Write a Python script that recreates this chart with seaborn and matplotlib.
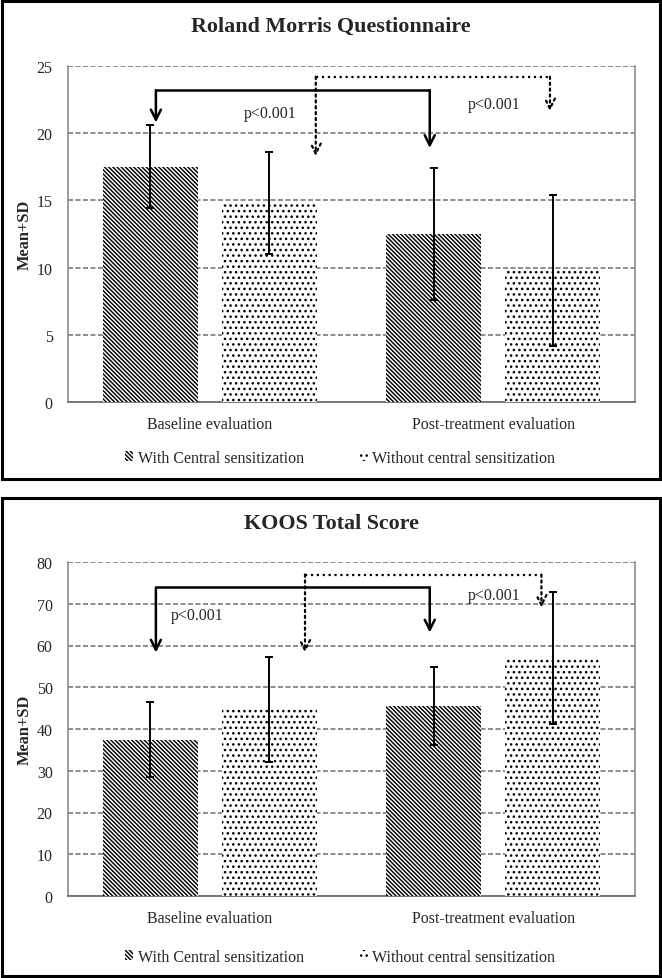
import matplotlib

matplotlib.use("Agg")

import matplotlib.pyplot as plt
import pandas as pd
import seaborn as sns
from matplotlib.patches import Patch, Rectangle

# ---- data -------------------------------------------------------------
categories = ["Baseline evaluation", "Post-treatment evaluation"]
groups = ["With Central sensitization", "Without central sensitization"]

rm_mean_with = [17.5, 12.5]
rm_sd_with = [3.1, 4.9]
rm_mean_without = [14.8, 9.8]
rm_sd_without = [3.8, 5.6]

koos_mean_with = [37.4, 45.5]
koos_sd_with = [9.0, 9.4]
koos_mean_without = [44.7, 57.0]
koos_sd_without = [12.6, 15.7]

# annotation brackets: (x_left, x_right, y_top, tip_left, tip_right)
rm_solid = (-0.19, 0.776, 23.2, 20.8, 18.9)
rm_dotted = (0.374, 1.20, 24.2, 18.3, 21.65)
rm_ptext = [(0.214, 21.5), (1.005, 22.2)]

koos_solid = (-0.19, 0.776, 73.9, 58.3, 63.1)
koos_dotted = (0.336, 1.17, 77.0, 58.3, 69.1)
koos_ptext = [(-0.046, 67.4), (1.005, 72.0)]

hatches = ["\\" * 8, "..."]

sns.set_style("white")
plt.rcParams["font.family"] = ["Liberation Serif", "DejaVu Serif"]
plt.rcParams["hatch.linewidth"] = 1.05


def make_df(mean_with, mean_without):
    rows = []
    for g, vals in zip(groups, [mean_with, mean_without]):
        for c, v in zip(categories, vals):
            rows.append({"cat": c, "group": g, "mean": v})
    return pd.DataFrame(rows)


def bracket(ax, spec, style):
    xl, xr, ytop, tl, tr = spec
    ls = "-" if style == "solid" else ":"
    lw = 1.8 if style == "solid" else 1.6
    ax.plot([xl, xr], [ytop, ytop], color="black", lw=lw, ls=ls, zorder=5,
            solid_capstyle="butt")
    for x, tip in [(xl, tl), (xr, tr)]:
        ax.annotate("", xy=(x, tip), xytext=(x, ytop),
                    arrowprops=dict(arrowstyle="->", lw=lw, ls=ls,
                                    color="black", mutation_scale=18,
                                    shrinkA=0, shrinkB=0),
                    zorder=5)


def draw_panel(ax, df, sds, ymax, ystep, solid, dotted, ptexts, leg_y):
    sns.barplot(data=df, x="cat", y="mean", hue="group", hue_order=groups,
                order=categories, errorbar=None, width=0.84, gap=0.2,
                palette=["white", "white"], edgecolor="black", linewidth=0,
                ax=ax, zorder=3)
    for cont, h, sd in zip(ax.containers, hatches, sds):
        xs, ys = [], []
        for bar in cont:
            bar.set_hatch(h)
            xs.append(bar.get_x() + bar.get_width() / 2)
            ys.append(bar.get_height())
        ax.errorbar(xs, ys, yerr=sd, fmt="none", ecolor="black",
                    elinewidth=1.4, capsize=3.0, capthick=1.4, zorder=4)
    if ax.get_legend() is not None:
        ax.get_legend().remove()

    ax.set_ylim(0, ymax)
    ax.set_xlim(-0.5, 1.5)
    ax.set_yticks(range(0, ymax + 1, ystep))
    ax.yaxis.grid(True, color="#7a7a7a", ls=(0, (3.0, 1.5)), lw=1.2)
    ax.set_axisbelow(True)
    for s in ["left", "right"]:
        ax.spines[s].set_color("#8c8c8c")
        ax.spines[s].set_linewidth(1.2)
    ax.spines["top"].set_visible(False)
    ax.spines["bottom"].set_color("#707070")
    ax.spines["bottom"].set_linewidth(1.3)
    ax.tick_params(axis="y", length=0, labelsize=11.5, pad=11)
    ax.tick_params(axis="x", length=0, labelsize=11.5, pad=10)
    ax.set_xlabel("")
    ax.set_ylabel("Mean+SD", fontsize=11.8, fontweight="bold")
    ax.yaxis.set_label_coords(-0.062, 0.5)

    bracket(ax, solid, "solid")
    bracket(ax, dotted, "dotted")
    for x, y in ptexts:
        ax.text(x, y, "p<0.001", ha="center", va="center", fontsize=11.5,
                zorder=6)

    handles = [Patch(facecolor="white", edgecolor="black", linewidth=0,
                     hatch=h, label=g) for h, g in zip(hatches, groups)]
    ax.legend(handles=handles, loc="upper center",
              bbox_to_anchor=(0.48, leg_y), ncol=2, frameon=False,
              fontsize=11.5, handlelength=0.5, handleheight=0.6,
              handletextpad=0.3, columnspacing=3.5)


fig = plt.figure(figsize=(6.62, 9.79), dpi=100)

# panel borders
for y0 in [1 - 480 / 979, 1 - 977 / 979]:
    fig.patches.append(Rectangle((2 / 662, y0), 658 / 662, 478 / 979,
                                 transform=fig.transFigure, fill=False,
                                 edgecolor="black", lw=2.2))

ax1 = fig.add_axes([68 / 662, 1 - 403 / 979, 567 / 662, 336 / 979])
ax2 = fig.add_axes([68 / 662, 1 - 897 / 979, 567 / 662, 334 / 979])

draw_panel(ax1, make_df(rm_mean_with, rm_mean_without),
           [rm_sd_with, rm_sd_without], 25, 5, rm_solid, rm_dotted, rm_ptext,
           -0.1)
draw_panel(ax2, make_df(koos_mean_with, koos_mean_without),
           [koos_sd_with, koos_sd_without], 80, 10, koos_solid, koos_dotted,
           koos_ptext, -0.115)

fig.text(0.5, 1 - 27 / 979, "Roland Morris Questionnaire", ha="center",
         va="center", fontsize=15.8, fontweight="bold")
fig.text(0.5, 1 - 524 / 979, "KOOS Total Score", ha="center",
         va="center", fontsize=15.8, fontweight="bold")

fig.savefig("out.png", dpi=100)
